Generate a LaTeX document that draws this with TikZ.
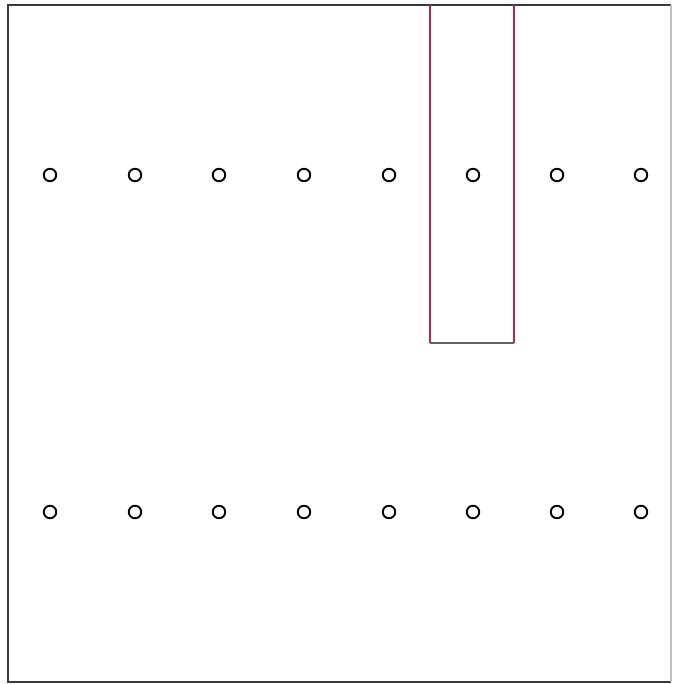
\documentclass[tikz,border=0pt]{standalone}
\usepackage{xcolor}
\usepackage{tikz}
\usetikzlibrary{calc}
\definecolor{SlotRed}{HTML}{C8203A}
\definecolor{FrameGray}{HTML}{3A3A3A}

\begin{document}
\begin{tikzpicture}[x=0.02cm,y=-0.02cm,
    hole/.style={circle,draw,line width=1.1pt,minimum size=0.25cm,inner sep=0pt}]
  \useasboundingbox (0,0) rectangle (678,684);
  % outer frame
  \draw[line width=0.9pt,FrameGray] (671,5)--(8,5)--(8,682)--(671,682);
  \draw[line width=0.6pt,black!25] (671,5)--(671,682);
  % rows of holes
  \foreach \i/\x in {1/50,2/135,3/219,4/304,5/389,6/473,7/557,8/641}{
    \node[hole] (t\i) at (\x,175) {};
    \node[hole] (b\i) at (\x,512) {};
  }
  % highlighted slot
  \coordinate (sa) at (430,5);
  \coordinate (sb) at (514,343);
  \draw[SlotRed,line width=0.7pt] (sa)--(sa|-sb);
  \draw[SlotRed,line width=0.7pt] (sb|-sa)--(sb);
  \draw[FrameGray!80,line width=0.8pt] (sa|-sb)--(sb);
\end{tikzpicture}
\end{document}
